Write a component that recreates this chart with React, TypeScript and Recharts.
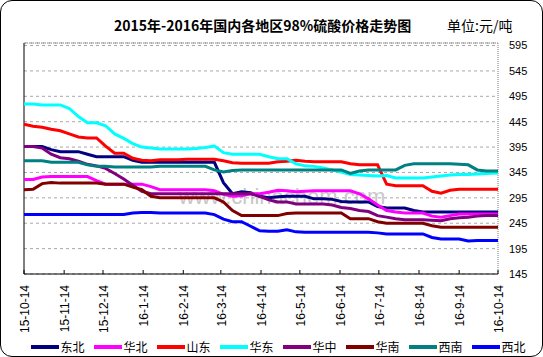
import React from "react";
import { LineChart, Line, XAxis, YAxis, CartesianGrid, ReferenceLine } from "recharts";

const weeks = Array.from({ length: 53 }, (_, i) => i);
const days: number[] = weeks.map((w) => (w < 52 ? w * 7 : 366));

const tickDays = [0, 31, 61, 92, 123, 152, 183, 213, 244, 274, 305, 336, 366];
const tickLabels = [
  "15-10-14", "15-11-14", "15-12-14", "16-1-14", "16-2-14", "16-3-14", "16-4-14",
  "16-5-14", "16-6-14", "16-7-14", "16-8-14", "16-9-14", "16-10-14",
];
const yTicks = [145, 195, 245, 295, 345, 395, 445, 495, 545, 595];

const seriesNames = ["东北", "华北", "山东", "华东", "华中", "华南", "西南", "西北"];
const seriesColors = ["#000080", "#FF00FF", "#FF0000", "#00FFFF", "#800080", "#800000", "#008080", "#0000FF"];

const dongbei = [
  396, 396, 396, 390, 386, 386, 386, 381, 376, 376,
  376, 376, 369, 365, 365, 365, 365, 365, 365, 365,
  365, 365, 325, 303, 307, 305, 298, 295, 297, 298,
  298, 298, 293, 293, 292, 288, 287, 287, 287, 278,
  275, 275, 275, 270, 267, 267, 267, 267, 267, 267,
  267, 267, 267,
];
const huabei = [
  331, 331, 336, 337, 337, 337, 337, 337, 329, 322,
  322, 322, 322, 322, 317, 311, 311, 311, 311, 311,
  311, 309, 302, 298, 299, 303, 303, 306, 310, 309,
  307, 308, 309, 309, 309, 309, 309, 303, 293, 281,
  270, 267, 265, 265, 265, 259, 257, 260, 263, 263,
  263, 263, 263,
];
const shandong = [
  440, 436, 434, 430, 427, 421, 415, 413, 413, 397,
  383, 383, 373, 369, 368, 370, 370, 370, 371, 371,
  371, 371, 368, 364, 363, 363, 363, 363, 366, 367,
  369, 367, 366, 366, 366, 366, 362, 360, 360, 360,
  322, 319, 319, 319, 319, 308, 304, 310, 312, 312,
  312, 312, 312,
];
const huadong = [
  480, 480, 478, 478, 478, 471, 455, 443, 443, 437,
  421, 412, 402, 395, 393, 391, 391, 391, 391, 392,
  394, 397, 384, 381, 381, 381, 381, 376, 372, 372,
  362, 358, 357, 354, 350, 346, 341, 340, 339, 338,
  339, 334, 334, 334, 334, 336, 338, 340, 341, 341,
  342, 343, 344,
];
const huazhong = [
  396, 396, 393, 381, 374, 372, 367, 361, 358, 353,
  343, 332, 320, 308, 303, 303, 303, 303, 303, 303,
  303, 303, 303, 303, 303, 303, 298, 291, 287, 287,
  283, 283, 283, 283, 281, 276, 274, 270, 268, 260,
  257, 254, 252, 252, 252, 251, 250, 254, 256, 257,
  259, 260, 260,
];
const huanan = [
  311, 312, 323, 325, 324, 324, 324, 324, 324, 322,
  322, 322, 316, 311, 298, 295, 295, 295, 295, 295,
  295, 295, 287, 270, 260, 260, 260, 260, 260, 264,
  265, 265, 265, 265, 265, 265, 254, 254, 254, 248,
  245, 245, 245, 245, 245, 240, 237, 237, 237, 237,
  237, 237, 237,
];
const xinan = [
  368, 368, 368, 365, 365, 365, 365, 360, 357, 357,
  356, 356, 356, 356, 356, 357, 357, 357, 357, 357,
  357, 350, 346, 349, 350, 350, 350, 350, 350, 350,
  350, 350, 350, 350, 350, 350, 343, 348, 350, 350,
  350, 350, 359, 362, 362, 362, 362, 362, 361, 360,
  350, 348, 348,
];
const xibei = [
  262, 262, 262, 262, 262, 262, 262, 262, 262, 262,
  262, 262, 265, 266, 266, 265, 265, 265, 265, 265,
  265, 262, 253, 248, 248, 239, 230, 229, 229, 232,
  228, 227, 227, 227, 227, 227, 227, 227, 227, 226,
  224, 224, 224, 224, 224, 217, 214, 214, 214, 210,
  211, 211, 211,
];

const seriesValues = [dongbei, huabei, shandong, huadong, huazhong, huanan, xinan, xibei];
const keys = ["s0", "s1", "s2", "s3", "s4", "s5", "s6", "s7"];

const data = days.map((d, i) => {
  const row: Record<string, number> = { day: d };
  seriesValues.forEach((arr, k) => {
    row[keys[k]] = arr[i];
  });
  return row;
});

const XTick = (props: any) => {
  const { x, y, payload } = props;
  const idx = tickDays.indexOf(payload.value);
  return (
    <g>
      <line x1={x} x2={x} y1={y} y2={y - 4} stroke="#000" strokeWidth={1} />
      <text
        transform={`translate(${x + 1},${y + 11}) rotate(-90)`}
        textAnchor="end"
        dominantBaseline="central"
        fontSize={12}
        fontFamily="Liberation Sans, Arial, sans-serif"
        fill="#000"
      >
        {tickLabels[idx]}
      </text>
    </g>
  );
};

export default function App() {
  return (
    <div
      style={{
        position: "absolute",
        left: 0,
        top: 0,
        width: 543,
        height: 357,
        background: "#fff",
        overflow: "hidden",
      }}
    >
      <div
        style={{
          position: "absolute",
          left: 236,
          top: 186,
          fontSize: 22,
          fontFamily: "Liberation Sans, Arial, sans-serif",
          color: "#c8c8c8",
          whiteSpace: "nowrap",
          lineHeight: "22px",
          transform: "translateX(-50%)",
          marginLeft: 46,
        }}
      >
        www.chinachem.com
      </div>
      <LineChart
        width={543}
        height={357}
        data={data}
        margin={{ top: 43, right: 0, bottom: 0, left: 24 }}
        style={{ position: "absolute", left: 0, top: 0 }}
      >
        <CartesianGrid horizontal vertical={false} stroke="#a8a8a8" strokeDasharray="3 3" />
        <XAxis
          dataKey="day"
          type="number"
          domain={[0, 366]}
          ticks={tickDays}
          interval={0}
          height={83}
          tickLine={false}
          tickSize={0}
          tickMargin={0}
          axisLine={{ stroke: "#000", strokeWidth: 1 }}
          tick={<XTick />}
        />
        <YAxis
          orientation="right"
          type="number"
          domain={[145, 600]}
          ticks={yTicks}
          interval={0}
          width={45}
          axisLine={false}
          tickLine={false}
          tickSize={6}
          tickMargin={5}
          tick={{ fontSize: 11, fill: "#000", fontFamily: "Liberation Sans, Arial, sans-serif" }}
        />
        <ReferenceLine y={600} stroke="#808080" strokeDasharray="1 1" />
        <ReferenceLine x={366} stroke="#808080" strokeDasharray="1 1" />
        <ReferenceLine x={0} stroke="#000" />
        {keys.map((k, i) => (
          <Line
            key={k}
            dataKey={k}
            name={seriesNames[i]}
            stroke={seriesColors[i]}
            strokeWidth={3}
            dot={false}
            type="linear"
            isAnimationActive={false}
          />
        ))}
      </LineChart>
      <div
        style={{
          position: "absolute",
          left: 114,
          top: 16,
          width: 292,
          textAlign: "center",
          fontSize: 14,
          fontWeight: "bold",
          fontFamily: "Noto Sans CJK SC, sans-serif",
          lineHeight: "18px",
          whiteSpace: "nowrap",
          color: "#000",
        }}
      >
        2015年-2016年国内各地区98%硫酸价格走势图
      </div>
      <div
        style={{
          position: "absolute",
          left: 447,
          top: 16,
          fontSize: 14,
          fontFamily: "Noto Sans CJK SC, sans-serif",
          lineHeight: "18px",
          whiteSpace: "nowrap",
          color: "#000",
        }}
      >
        单位:元/吨
      </div>
      {seriesNames.map((n, i) => (
        <div
          key={n}
          style={{
            position: "absolute",
            left: 30.5 + 63 * i,
            top: 339,
            height: 16,
            display: "flex",
            alignItems: "center",
            whiteSpace: "nowrap",
          }}
        >
          <div style={{ width: 28.5, height: 3.5, background: seriesColors[i], marginRight: 1.5 }} />
          <span
            style={{
              fontSize: 12,
              fontFamily: "Noto Sans CJK SC, sans-serif",
              lineHeight: "16px",
              color: "#000",
            }}
          >
            {n}
          </span>
        </div>
      ))}
      <div
        style={{
          position: "absolute",
          left: 0,
          top: 0,
          width: 543,
          height: 357,
          boxSizing: "border-box",
          border: "1px solid #000",
          borderRadius: 12,
          pointerEvents: "none",
        }}
      />
    </div>
  );
}
